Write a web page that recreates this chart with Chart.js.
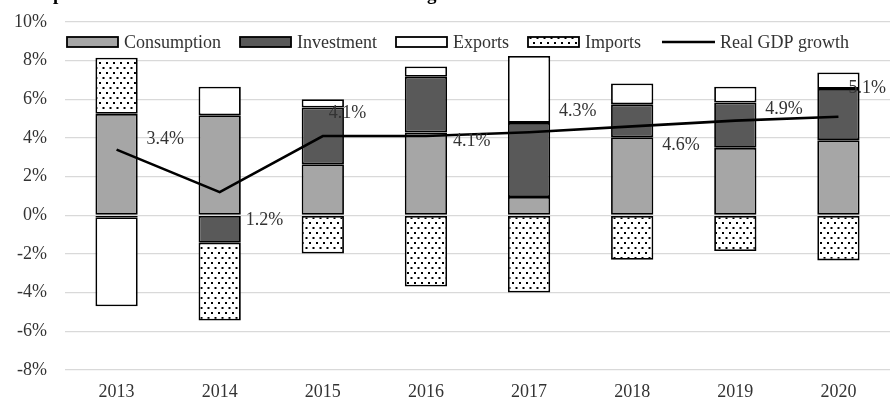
<!DOCTYPE html>
<html>
<head>
<meta charset="utf-8">
<script src="https://cdn.jsdelivr.net/npm/chart.js@4.4.1/dist/chart.umd.min.js"></script>
<style>
  html, body { margin: 0; padding: 0; background: #fff; }
  #wrap { width: 890px; height: 406px; position: relative; }
</style>
</head>
<body>
<div id="wrap"><canvas id="gdpChart"></canvas></div>
<script>
// Chart data (percentage points)
const years = ['2013', '2014', '2015', '2016', '2017', '2018', '2019', '2020'];
const consumption = [5.25, 5.18, 2.64, 4.28, 0.95, 4.04, 3.49, 3.89];
const investment = [-0.1, -1.42, 2.94, 2.89, 3.83, 1.70, 2.35, 2.65];
const exportsData = [-4.6, 1.47, 0.43, 0.53, 3.46, 1.08, 0.81, 0.85];
const imports = [2.9, -4.02, -1.98, -3.68, -3.99, -2.30, -1.85, -2.33];
const gdpGrowth = [3.4, 1.2, 4.1, 4.1, 4.3, 4.6, 4.9, 5.1];
const yTicks = [-8, -6, -4, -2, 0, 2, 4, 6, 8, 10];
const chartTitle = 'Components of demand contributions to real GDP growth';

const FONT = '"Liberation Serif", "Times New Roman", serif';
const TEXT = '#333333';

// dotted fill for imports
function dotPattern() {
  var c = document.createElement('canvas');
  c.width = 7; c.height = 10;
  var g = c.getContext('2d');
  g.fillStyle = '#fff';
  g.fillRect(0, 0, 7, 10);
  g.fillStyle = '#000';
  g.fillRect(1, 2, 2, 2);
  g.fillRect(4.5, 7, 2, 2);
  return g.createPattern(c, 'repeat');
}
const dots = dotPattern();

// title sits mostly above the canvas, only descenders show (as in the reference)
const titlePlugin = {
  id: 'cutTitle',
  afterDraw(chart) {
    var ctx = chart.ctx;
    ctx.save();
    ctx.font = 'bold 19px ' + FONT;
    ctx.fillStyle = '#000';
    ctx.textBaseline = 'alphabetic';
    ctx.fillText(chartTitle, 14, 0);
    ctx.restore();
  }
};

// legend drawn inside the plot area
const legendPlugin = {
  id: 'innerLegend',
  afterDraw(chart) {
    var ctx = chart.ctx;
    ctx.save();
    ctx.font = '18px ' + FONT;
    ctx.textBaseline = 'middle';
    var x = 67, y = 42;
    chart.data.datasets.forEach(function(ds) {
      if (ds.type === 'line') {
        ctx.strokeStyle = '#000';
        ctx.lineWidth = 2.5;
        ctx.beginPath();
        ctx.moveTo(x + 2, y);
        ctx.lineTo(x + 55, y);
        ctx.stroke();
        x += 60;
      } else {
        ctx.fillStyle = ds.backgroundColor;
        ctx.fillRect(x, y - 5, 51, 10);
        ctx.strokeStyle = '#000';
        ctx.lineWidth = 1.8;
        ctx.strokeRect(x, y - 5, 51, 10);
        x += 57;
      }
      ctx.fillStyle = TEXT;
      ctx.fillText(ds.label, x, y + 1);
      x += ctx.measureText(ds.label).width + 19;
    });
    ctx.restore();
  }
};

// value labels for the GDP line
const gdpLabelPlugin = {
  id: 'gdpLabels',
  afterDatasetsDraw(chart) {
    var idx = chart.data.datasets.findIndex(function(d) { return d.type === 'line'; });
    var meta = chart.getDatasetMeta(idx);
    var offs = [[30, -10], [26, 28], [6, -23], [27, 5], [30, -21], [30, 19], [30, -11], [10, -28]];
    var ctx = chart.ctx;
    ctx.save();
    ctx.font = '18px ' + FONT;
    ctx.fillStyle = TEXT;
    ctx.textBaseline = 'middle';
    meta.data.forEach(function(pt, i) {
      var v = chart.data.datasets[idx].data[i];
      ctx.fillText(v.toFixed(1) + '%', pt.x + offs[i][0], pt.y + offs[i][1]);
    });
    ctx.restore();
  }
};

const barBase = {
  borderColor: '#000',
  borderWidth: 1.8,
  borderSkipped: false,
  barPercentage: 0.41,
  categoryPercentage: 1,
  stack: 'demand',
  order: 1
};

new Chart(document.getElementById('gdpChart'), {
  type: 'bar',
  data: {
    labels: years,
    datasets: [
      Object.assign({ label: 'Consumption', data: consumption, backgroundColor: '#a6a6a6' }, barBase),
      Object.assign({ label: 'Investment', data: investment, backgroundColor: '#595959' }, barBase),
      Object.assign({ label: 'Exports', data: exportsData, backgroundColor: '#ffffff' }, barBase),
      Object.assign({ label: 'Imports', data: imports, backgroundColor: dots }, barBase),
      {
        type: 'line',
        label: 'Real GDP growth',
        data: gdpGrowth,
        borderColor: '#000',
        borderWidth: 2.6,
        pointRadius: 0,
        tension: 0,
        fill: false,
        stack: 'gdp',
        order: 0
      }
    ]
  },
  options: {
    responsive: true,
    maintainAspectRatio: false,
    animation: false,
    layout: { padding: { top: 22, right: 0, bottom: 0, left: 0 } },
    plugins: {
      legend: { display: false },
      tooltip: { enabled: false }
    },
    scales: {
      x: {
        stacked: true,
        afterFit: function(scale) { scale.height = 36; },
        grid: { display: false, drawTicks: false },
        border: { display: false },
        ticks: { color: TEXT, font: { family: FONT, size: 18 }, padding: 11 }
      },
      y: {
        stacked: true,
        min: -8,
        max: 10,
        afterFit: function(scale) {
          scale.width = 65;
          scale.paddingTop = 0;
          scale.paddingBottom = 0;
        },
        afterBuildTicks: function(scale) {
          scale.ticks = yTicks.map(function(v) { return { value: v }; });
        },
        grid: { color: '#d9d9d9', lineWidth: 1.3, drawTicks: false },
        border: { display: false },
        ticks: {
          color: TEXT,
          font: { family: FONT, size: 18 },
          padding: 18,
          callback: function(v) { return v + '%'; }
        }
      }
    }
  },
  plugins: [titlePlugin, legendPlugin, gdpLabelPlugin]
});
</script>
</body>
</html>
